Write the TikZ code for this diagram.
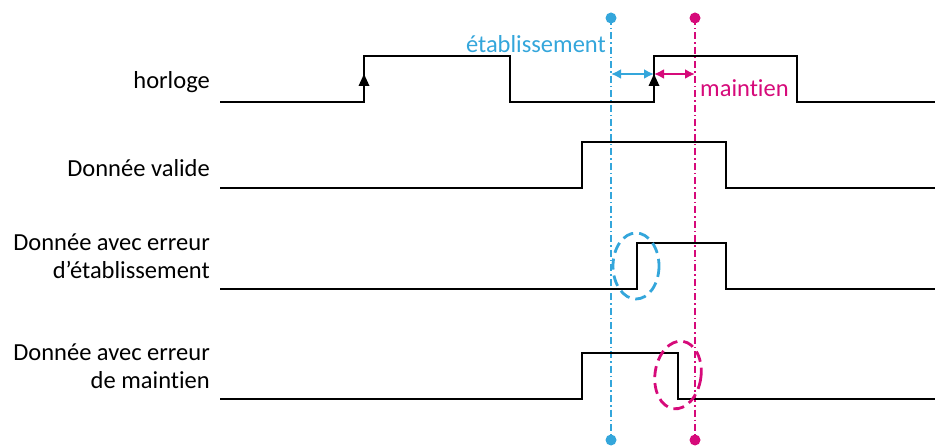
\documentclass[tikz,border=0pt]{standalone}
\usepackage{fontspec}
\setmainfont{Carlito}[Ligatures=NoCommon]
\usetikzlibrary{arrows.meta}
\definecolor{cblue}{RGB}{52,166,219}
\definecolor{cmag}{RGB}{214,10,122}
\begin{document}
\begin{tikzpicture}[x=1pt,y=-1pt,
  sig/.style={line width=2.8pt,line join=miter},
  guide/.style={line width=1.4pt,dash pattern=on 7pt off 3pt on 1.5pt off 3pt},
  txt/.style={font=\fontsize{24.5}{28}\selectfont,inner sep=0pt},
  lbl/.style={txt,anchor=east,align=right},
  errell/.style={line width=2.8pt,dash pattern=on 11pt off 6pt},
  dim/.style={line width=2pt,{Latex[length=10pt,width=10pt]}-{Latex[length=10pt,width=10pt]}}]
\useasboundingbox (0,0) rectangle (935,446);
% labels
\node[lbl] (lh) at (210,82) {horloge};
\node[lbl] (lv) at (210,168) {Donnée valide};
\node[lbl] (le) at (210,256) {Donnée avec erreur\\d’établissement};
\node[lbl] (lm) at (210,366) {Donnée avec erreur\\de maint\kern0pt ien};
% guides
\coordinate (bt) at (611,18); \coordinate (bb) at (611,440);
\coordinate (mt) at (695,18); \coordinate (mb) at (695,440);
\draw[guide,cblue] (bt) -- (bb);
\draw[guide,cmag] (mt) -- (mb);
\fill[cblue] (bt) circle (5.5); \fill[cblue] (bb) circle (5.5);
\fill[cmag] (mt) circle (5.5); \fill[cmag] (mb) circle (5.5);
% clock
\draw[sig] (220,102) -- (364,102) -- (364,56) -- (510,56) -- (510,102) -- (654,102) -- (654,56) -- (797,56) -- (797,102) -- (935,102);
\fill (358.5,86) -- (369.5,86) -- (364,74) -- cycle;
\fill (648.5,86) -- (659.5,86) -- (654,74) -- cycle;
% data valid
\draw[sig] (220,188) -- (582,188) -- (582,142) -- (726,142) -- (726,188) -- (935,188);
% setup error
\draw[sig] (220,289) -- (637,289) -- (637,243) -- (726,243) -- (726,289) -- (935,289);
% hold error
\draw[sig] (220,399) -- (582,399) -- (582,353) -- (678,353) -- (678,399) -- (935,399);
% dimension arrows
\coordinate (ea) at (611,74); \coordinate (eb) at (654,74); \coordinate (ec) at (695,74);
\draw[dim,cblue] (ea) -- (eb);
\draw[dim,cmag] (eb) -- (ec);
\node[txt,anchor=east,text=cblue] (te) at (606,44) {établissement};
\node[txt,anchor=west,text=cmag] (tm) at (700,88) {maint\kern0pt ien};
% error ellipses
\draw[errell,cblue] (636,266) ellipse [x radius=23, y radius=33];
\draw[errell,cmag,rotate around={-8:(678,375)}] (678,375) ellipse [x radius=23, y radius=34];
\end{tikzpicture}
\end{document}
